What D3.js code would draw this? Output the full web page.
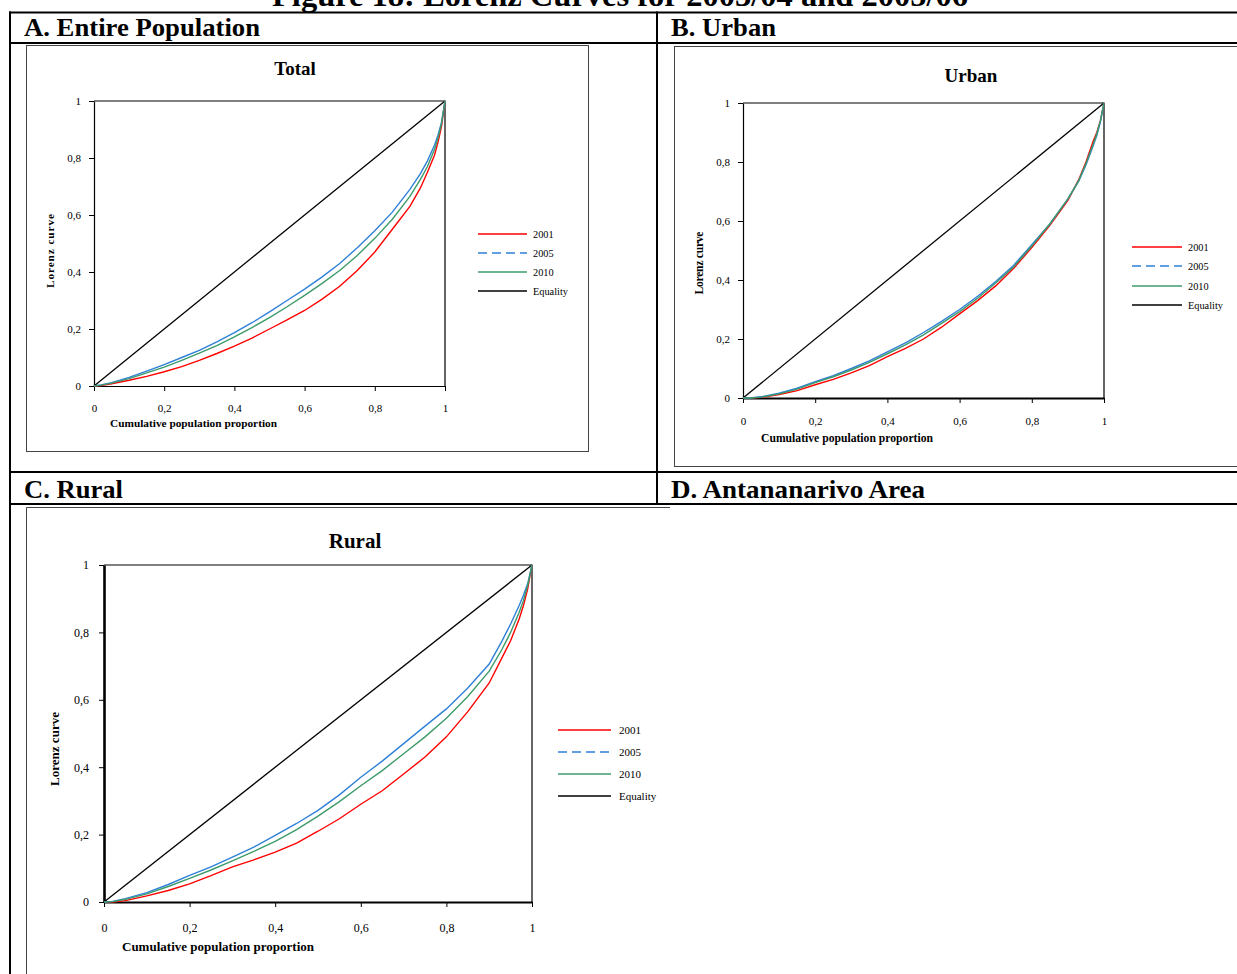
<!DOCTYPE html>
<html><head><meta charset="utf-8">
<script src="https://cdn.jsdelivr.net/npm/d3@7"></script>
<style>
html,body{margin:0;padding:0;background:#fff;}
svg{display:block;font-family:"Liberation Serif","Times New Roman",serif;}
</style></head>
<body><svg id="c" width="1237" height="974"></svg>
<script>
// ---------- DATA ----------
const figureTitle = "Figure 18: Lorenz Curves for 2003/04 and 2005/06";
const panelHeaders = ["A. Entire Population", "B. Urban", "C. Rural", "D. Antananarivo Area"];
const chartTitles = ["Total", "Urban", "Rural"];
const seriesNames = ["2001", "2005", "2010", "Equality"];
const tickValues = [0, 0.2, 0.4, 0.6, 0.8, 1];
const tickLabels = ["0", "0,2", "0,4", "0,6", "0,8", "1"];
const xAxisTitle = "Cumulative population proportion";
const yAxisTitle = "Lorenz curve";

const popShare = [0, 0.02, 0.05, 0.1, 0.15, 0.2, 0.25, 0.3, 0.35, 0.4, 0.45, 0.5, 0.55, 0.6, 0.65, 0.7, 0.75, 0.8, 0.85, 0.9, 0.93, 0.95, 0.97, 0.98, 0.99, 1];

const total2001 = [0, 0.002, 0.008, 0.02, 0.034, 0.05, 0.068, 0.09, 0.114, 0.14, 0.168, 0.2, 0.232, 0.265, 0.305, 0.35, 0.405, 0.47, 0.55, 0.63, 0.695, 0.75, 0.81, 0.855, 0.91, 1];
const total2005 = [0, 0.004, 0.012, 0.03, 0.052, 0.075, 0.1, 0.125, 0.155, 0.187, 0.222, 0.26, 0.3, 0.34, 0.383, 0.43, 0.485, 0.545, 0.61, 0.69, 0.745, 0.79, 0.845, 0.88, 0.925, 1];
const total2010 = [0, 0.003, 0.01, 0.026, 0.046, 0.066, 0.09, 0.115, 0.142, 0.172, 0.205, 0.24, 0.278, 0.318, 0.36, 0.405, 0.458, 0.518, 0.585, 0.665, 0.725, 0.77, 0.83, 0.87, 0.92, 1];

const urban2001 = [0, 0, 0.002, 0.012, 0.025, 0.045, 0.063, 0.085, 0.11, 0.14, 0.168, 0.2, 0.24, 0.285, 0.33, 0.38, 0.44, 0.51, 0.585, 0.67, 0.74, 0.8, 0.87, 0.9, 0.94, 1];
const urban2005 = [0, 0, 0.004, 0.016, 0.033, 0.055, 0.076, 0.1, 0.126, 0.156, 0.187, 0.222, 0.26, 0.3, 0.345, 0.395, 0.45, 0.52, 0.59, 0.675, 0.735, 0.79, 0.855, 0.89, 0.935, 1];
const urban2010 = [0, 0, 0.003, 0.014, 0.03, 0.052, 0.072, 0.095, 0.121, 0.15, 0.18, 0.214, 0.253, 0.293, 0.338, 0.39, 0.445, 0.515, 0.59, 0.675, 0.737, 0.795, 0.86, 0.895, 0.94, 1];

const rural2001 = [0, 0, 0.004, 0.018, 0.034, 0.054, 0.078, 0.104, 0.125, 0.148, 0.175, 0.21, 0.247, 0.29, 0.33, 0.38, 0.43, 0.49, 0.565, 0.65, 0.725, 0.775, 0.84, 0.88, 0.93, 1];
const rural2005 = [0, 0.002, 0.01, 0.028, 0.052, 0.079, 0.104, 0.133, 0.163, 0.198, 0.233, 0.272, 0.318, 0.37, 0.418, 0.47, 0.522, 0.573, 0.635, 0.706, 0.775, 0.825, 0.88, 0.91, 0.945, 1];
const rural2010 = [0, 0.001, 0.008, 0.024, 0.046, 0.07, 0.095, 0.122, 0.15, 0.18, 0.215, 0.255, 0.298, 0.345, 0.39, 0.44, 0.49, 0.545, 0.61, 0.685, 0.75, 0.8, 0.86, 0.895, 0.94, 1];

const equalityX = [0, 1];
const equalityY = [0, 1];

// ---------- STYLE ----------
const colors = ["#ff0000", "#2f80d8", "#3d9b6b", "#000000"];
const svg = d3.select("#c");

// Figure title (cut off at the top edge, as in the reference)
svg.append("text").attr("x", 620).attr("y", 6).attr("text-anchor", "middle")
  .attr("font-weight", "bold").attr("font-size", 31)
  .attr("textLength", 696).attr("lengthAdjust", "spacingAndGlyphs").text(figureTitle);

// Table grid
const grid = svg.append("g").attr("stroke", "#000").attr("fill", "none");
function hl(y, x1, x2, w) { grid.append("line").attr("x1", x1).attr("x2", x2).attr("y1", y).attr("y2", y).attr("stroke-width", w); }
function vl(x, y1, y2, w) { grid.append("line").attr("x1", x).attr("x2", x).attr("y1", y1).attr("y2", y2).attr("stroke-width", w); }
hl(12.5, 9, 1237, 2);
hl(43, 9, 1237, 2);
hl(472, 9, 1237, 2);
hl(504, 9, 1237, 2);
vl(10, 11.5, 974, 2);
vl(657, 11.5, 505, 2);

// headers
const headerPos = [[24, 36], [671, 36], [24, 498], [671, 498]];
const headerW = [236, 105, 99, 254];
panelHeaders.forEach((h, i) => {
  svg.append("text").attr("x", headerPos[i][0]).attr("y", headerPos[i][1])
    .attr("font-weight", "bold").attr("font-size", 26)
    .attr("textLength", headerW[i]).attr("lengthAdjust", "spacingAndGlyphs").text(h);
});

// chart frames
const fr = svg.append("g").attr("fill", "none").attr("stroke", "#444").attr("stroke-width", 1);
fr.append("rect").attr("x", 26.5).attr("y", 45.5).attr("width", 562).attr("height", 406);
fr.append("rect").attr("x", 674.5).attr("y", 46.5).attr("width", 600).attr("height", 420);
fr.append("line").attr("x1", 26.5).attr("x2", 670).attr("y1", 507.5).attr("y2", 507.5);
fr.append("line").attr("x1", 26.5).attr("x2", 26.5).attr("y1", 507.5).attr("y2", 980);

const panels = [
  { title: chartTitles[0], data: [total2001, total2005, total2010],
    L: 94, R: 445, T: 101, B: 386, tickFs: 11, titleFs: 19, axFs: 11.3, legFs: 10.3,
    titleXY: [295, 75], yTitle: [54, 251], yTitleW: 74, xTitle: [110, 427], xTitleW: 167, xLabY: 413, yLabX: 81,
    leg: { x1: 478, x2: 527, tx: 533, ys: [234, 253, 272, 291] }, thick: false },
  { title: chartTitles[1], data: [urban2001, urban2005, urban2010],
    L: 743, R: 1104, T: 103, B: 398, tickFs: 11, titleFs: 19, axFs: 11.6, legFs: 10.3,
    titleXY: [971, 82], yTitle: [703, 263], yTitleW: 63, xTitle: [761, 442], xTitleW: 172, xLabY: 426, yLabX: 730,
    leg: { x1: 1132, x2: 1182, tx: 1188, ys: [247, 266, 286, 305] }, thick: true },
  { title: chartTitles[2], data: [rural2001, rural2005, rural2010],
    L: 104, R: 532, T: 565, B: 902, tickFs: 12, titleFs: 21, axFs: 13, legFs: 11,
    titleXY: [355, 548], yTitle: [59, 749], yTitleW: 74, xTitle: [122, 951], xTitleW: 192, xLabY: 932, yLabX: 89,
    leg: { x1: 558, x2: 611, tx: 619, ys: [730, 752, 774, 796] }, thick: true }
];

panels.forEach(p => {
  const g = svg.append("g");
  const x = d3.scaleLinear().domain([0, 1]).range([p.L, p.R]);
  const y = d3.scaleLinear().domain([0, 1]).range([p.B, p.T]);

  // title
  g.append("text").attr("x", p.titleXY[0]).attr("y", p.titleXY[1]).attr("text-anchor", "middle")
    .attr("font-weight", "bold").attr("font-size", p.titleFs).text(p.title);

  // axes
  const fmt = v => tickLabels[tickValues.indexOf(v)];
  const xa = g.append("g").attr("transform", `translate(0,${p.B})`)
    .call(d3.axisBottom(x).tickValues(tickValues).tickFormat(fmt).tickSizeInner(5).tickSizeOuter(0).tickPadding(p.xLabY - p.B - 14));
  const ya = g.append("g").attr("transform", `translate(${p.L},0)`)
    .call(d3.axisLeft(y).tickValues(tickValues).tickFormat(fmt).tickSizeInner(5).tickSizeOuter(0).tickPadding(p.L - p.yLabX - 5));
  [xa, ya].forEach(a => {
    a.attr("font-family", null);
    a.selectAll("text").attr("font-size", p.tickFs).attr("fill", "#000");
    a.selectAll("line,path").attr("stroke", "#000");
  });
  xa.select(".domain").attr("stroke-width", p.thick ? 2.2 : 1.2);
  ya.select(".domain").attr("stroke-width", p.L === 104 ? 2.6 : 1.2);
  // top / right box
  g.append("path").attr("fill", "none").attr("stroke", "#000").attr("stroke-width", 1.2)
    .attr("d", `M${p.L},${p.T}H${p.R}V${p.B}`);

  // axis titles
  g.append("text").attr("x", p.xTitle[0]).attr("y", p.xTitle[1])
    .attr("font-weight", "bold").attr("font-size", p.axFs)
    .attr("textLength", p.xTitleW).attr("lengthAdjust", "spacingAndGlyphs").text(xAxisTitle);
  g.append("text").attr("transform", `translate(${p.yTitle[0]},${p.yTitle[1]}) rotate(-90)`)
    .attr("text-anchor", "middle").attr("font-weight", "bold").attr("font-size", p.axFs)
    .attr("textLength", p.yTitleW).attr("lengthAdjust", "spacing").text(yAxisTitle);

  // curves
  const line = d3.line().x(d => x(d[0])).y(d => y(d[1]));
  g.append("path").datum(d3.zip(equalityX, equalityY)).attr("fill", "none")
    .attr("stroke", colors[3]).attr("stroke-width", 1.3).attr("d", line);
  p.data.forEach((ser, i) => {
    g.append("path").datum(d3.zip(popShare, ser)).attr("fill", "none")
      .attr("stroke", colors[i]).attr("stroke-width", 1.4).attr("d", line);
  });
  // legend
  seriesNames.forEach((n, i) => {
    const ly = p.leg.ys[i];
    g.append("line").attr("x1", p.leg.x1).attr("x2", p.leg.x2).attr("y1", ly).attr("y2", ly)
      .attr("stroke", colors[i]).attr("stroke-width", 1.5)
      .attr("stroke-dasharray", i === 1 ? "9,5" : null);
    g.append("text").attr("x", p.leg.tx).attr("y", ly + 3.5).attr("font-size", p.legFs).text(n);
  });
});
</script></body></html>
